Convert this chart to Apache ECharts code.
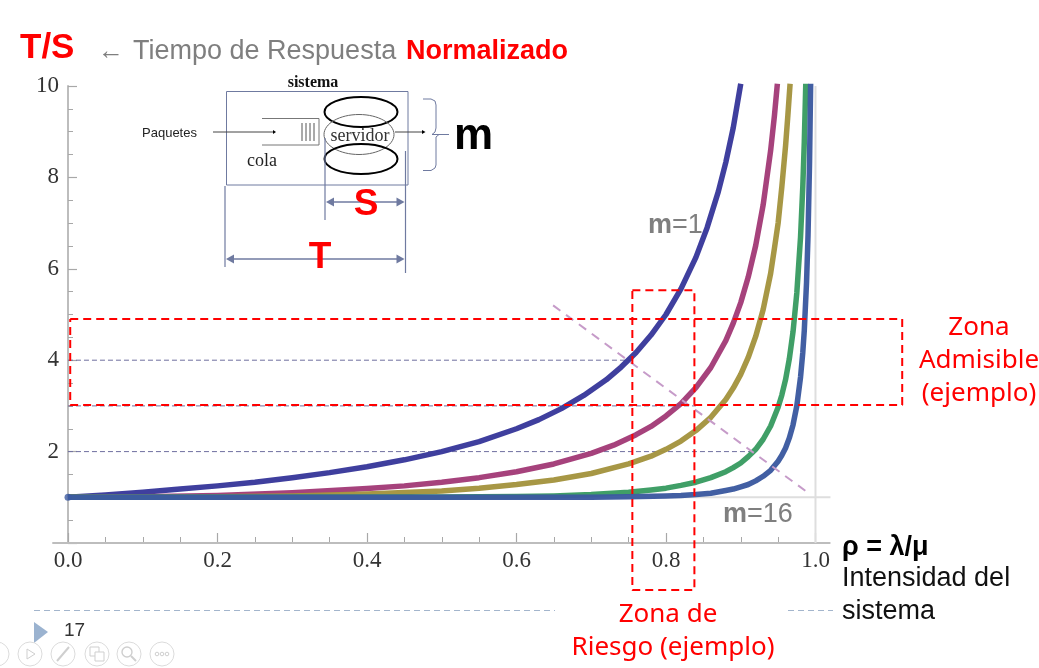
<!DOCTYPE html>
<html><head><meta charset="utf-8">
<script src="https://cdn.jsdelivr.net/npm/echarts@6/dist/echarts.min.js"></script>
<style>html,body{margin:0;padding:0;background:#fff}#c{width:1039px;height:668px}</style>
</head><body><div id="c"></div>
<script>
const xTickLabels = ['0.0','0.2','0.4','0.6','0.8','1.0'];
const yTickLabels = ['','2','4','6','8','10'];
const seriesNames = ['m=1','m=2','m=3','m=8','m=16'];
const m1Rho = [0,.05,.1,.15,.2,.25,.3,.35,.4,.45,.5,.55,.6,.63,.66,.69,.72,.74,.76,.78,.8,.82,.84,.855,.87,.88,.89,.9];
const m1T = [1,1.05,1.11,1.18,1.25,1.33,1.43,1.54,1.67,1.82,2,2.22,2.5,2.7,2.94,3.23,3.57,3.85,4.17,4.55,5,5.56,6.25,6.9,7.69,8.33,9.09,10.05];
const m2Rho = [0,.1,.2,.3,.4,.45,.5,.55,.6,.65,.7,.73,.76,.78,.8,.82,.84,.86,.88,.89,.9,.91,.92,.93,.94,.945,.949];
const m2T = [1,1.01,1.04,1.1,1.19,1.25,1.33,1.43,1.56,1.73,1.96,2.14,2.37,2.55,2.78,3.05,3.4,3.84,4.43,4.81,5.26,5.82,6.51,7.4,8.59,9.34,10.05];
const m3Rho = [0,.1,.2,.3,.4,.5,.55,.6,.65,.7,.75,.78,.8,.82,.84,.86,.88,.89,.9,.91,.92,.93,.94,.945,.95,.955,.96,.963,.966];
const m3T = [1,1,1.01,1.03,1.07,1.14,1.2,1.28,1.38,1.52,1.73,1.9,2.05,2.23,2.46,2.75,3.14,3.39,3.69,4.06,4.52,5.11,5.9,6.44,7,7.8,8.7,9.35,10.05];
const m8Rho = [0,.5,.6,.65,.7,.75,.78,.8,.82,.84,.86,.88,.89,.9,.91,.92,.93,.94,.95,.955,.96,.965,.97,.975,.98,.983,.985,.987];
const m8T = [1,1.004,1.017,1.03,1.06,1.11,1.16,1.2,1.26,1.33,1.43,1.56,1.65,1.75,1.89,2.05,2.27,2.56,2.97,3.24,3.58,4.03,4.63,5.47,6.7,7.8,8.77,10.05];
const m16Rho = [0,.6,.7,.75,.8,.82,.84,.86,.88,.89,.9,.91,.92,.93,.94,.95,.955,.96,.965,.97,.975,.98,.983,.985,.988,.99,.992,.9935];
const m16T = [1,1,1.003,1.01,1.03,1.04,1.06,1.09,1.15,1.18,1.23,1.28,1.36,1.46,1.59,1.79,1.92,2.08,2.3,2.59,3,3.63,4.17,4.65,5.7,6.73,8.3,10.05];
const curveColors = ['#39399b','#a33c78','#a4943f','#3a9c62','#3c5aa0'];
const zonaAdmisible = [[.003,4.9],[1.116,4.9],[1.116,3.02],[.003,3.02],[.003,4.9]];
const zonaRiesgo = [[.755,5.53],[.838,5.53],[.838,-1.03],[.755,-1.03],[.755,5.53]];
const guide4 = [[0,4],[.755,4]];
const guide3 = [[0,3],[.84,3]];
const guide2 = [[0,2],[.921,2]];
const diagonal = [[.649,5.2],[.99,1.1]];
const xAxisExtent = [[-.021,0],[1.02,0]];
const asymptoteH = [[0,1],[1.02,1]];
const asymptoteV = [[1,0],[1,10]];
const origin = [[0,1]];

const zip = (a,b)=>a.map((v,i)=>[v,b[i]]);
function ref(name,data,color,width,type,z){return {name,type:'line',xAxisIndex:1,yAxisIndex:1,data,symbol:'none',silent:true,clip:false,z:z||2,
  lineStyle:{color,width,type:type||'solid'},emphasis:{disabled:true}};}
function curve(name,x,y,color,z){return {name,type:'line',data:zip(x,y),symbol:'none',smooth:false,silent:true,clip:false,z,
  lineStyle:{color,width:5.5,opacity:.97,join:'round'},emphasis:{disabled:true}};}

const g=[];
const SANS='"Liberation Sans"', SERIF='"Liberation Serif"', NOTO='"Noto Sans"';
function T(text,x,y,font,fill,align){g.push({type:'text',silent:true,z:20,style:{text,x,y:y+1.5,font,fill,textAlign:align||'left',textVerticalAlign:'middle',verticalAlign:'middle'}});}
function L(x1,y1,x2,y2,stroke,w,dash){g.push({type:'line',silent:true,z:10,shape:{x1,y1,x2,y2},style:{stroke,lineWidth:w||1,lineDash:dash||null}});}
function P(points,fill){g.push({type:'polygon',silent:true,z:10,shape:{points},style:{fill}});}
function PL(points,stroke,w){g.push({type:'polyline',silent:true,z:10,shape:{points},style:{stroke,lineWidth:w||1,fill:'none'}});}
function E(cx,cy,rx,ry,stroke,w){g.push({type:'ellipse',silent:true,z:10,shape:{cx,cy,rx,ry},style:{stroke,lineWidth:w,fill:'none'}});}
function C(cx,cy,r){g.push({type:'circle',silent:true,z:10,shape:{cx,cy,r},style:{stroke:'#dcdcdc',lineWidth:1,fill:'none'}});}
const DG='#6f7aa0';
// title
T('T/S',20,47,'bold 35px '+SANS,'#ff0000');
T('←',98,50,'26px '+NOTO,'#7f7f7f');
T('Tiempo de Respuesta',133,50,'27px '+SANS,'#7f7f7f');
T('Normalizado',406,50,'bold 27px '+SANS,'#ff0000');
// diagram
T('sistema',313,81,'bold 16px '+SERIF,'#111','center');
g.push({type:'rect',silent:true,z:10,shape:{x:226.5,y:91.5,width:181.5,height:93.5},style:{stroke:DG,lineWidth:1,fill:'none'}});
E(361,112,36.5,15,'#000',2); E(359,134.5,35,20,'#666',1); E(361,159,36.5,15,'#000',2);
T('servidor',360,135,'18px '+SERIF,'#333','center');
T('Paquetes',169.5,132,'13px '+SANS,'#222','center');
L(213,132,273,132,'#444',1); P([[273,130],[276,132],[273,134]],'#000');
PL([[262,118.5],[319,118.5],[319,145],[262,145]],'#777',1);
[302,306,310,314].forEach(x=>L(x,123,x,141,'#555',1));
T('cola',262,160,'18px '+SERIF,'#222','center');
L(395,132,423,132,'#444',1); P([[422,130],[425.5,132],[422,134]],'#000');
PL([[423,99],[431,99],[435,101],[436,105],[436,128],[435,132],[432,134.5],[449,134.5],[439,134.5],[436,137],[436,165],[435,168],[431,170.5],[423,170.5]],DG,1);
T('m',454,135,'bold 44px '+SANS,'#000');
L(325,138,325,220,DG,1.2); L(405.5,151,405.5,206,DG,1.2);
L(333,202,397,202,DG,1.6); P([[326,202],[334,197.5],[334,206.5]],DG); P([[404.5,202],[396.5,197.5],[396.5,206.5]],DG);
T('S',366,203,'bold 37px '+SANS,'#ff0000','center');
L(225,186,225,267,DG,1.2); L(405.5,206,405.5,273,DG,1.2);
L(233,259,397,259,DG,1.6); P([[226,259],[234,254.5],[234,263.5]],DG); P([[404.5,259],[396.5,254.5],[396.5,263.5]],DG);
T('T',320,256,'bold 37px '+SANS,'#ff0000','center');
// curve labels
g.push({type:'text',silent:true,z:20,style:{x:648,y:226,verticalAlign:'middle',textVerticalAlign:'middle',text:'{b|m}{n|=1}',rich:{b:{font:'bold 27px '+SANS,fill:'#7f7f7f'},n:{font:'27px '+SANS,fill:'#7f7f7f'}}}});
g.push({type:'text',silent:true,z:20,style:{x:723,y:515,verticalAlign:'middle',textVerticalAlign:'middle',text:'{b|m}{n|=16}',rich:{b:{font:'bold 27px '+SANS,fill:'#7f7f7f'},n:{font:'27px '+SANS,fill:'#7f7f7f'}}}});
// zones
T('Zona',979,326,'26px '+NOTO,'#ff0000','center');
T('Admisible',979,359,'26px '+NOTO,'#ff0000','center');
T('(ejemplo)',979,392,'26px '+NOTO,'#ff0000','center');
T('Zona de',668,613,'26px '+NOTO,'#ff0000','center');
T('Riesgo (ejemplo)',673,646,'26px '+NOTO,'#ff0000','center');
// x title
T('ρ = λ/μ',842,546,'bold 27px '+SANS,'#000');
T('Intensidad del',842,577,'27px '+SANS,'#111');
T('sistema',842,610,'27px '+SANS,'#111');
// footer
L(34,610.5,555,610.5,'#a3b5cc',1.2,[6,4]);
L(788,610.5,833,610.5,'#a3b5cc',1.2,[6,4]);
P([[34,622],[48,632],[34,643]],'#9bb3d0');
T('17',64,629,'19px '+SANS,'#333');
[-3,30,63,97,129,162].forEach(x=>C(x,654,12));
PL([[27,649],[35,654],[27,659],[27,649]],'#cfcfcf',1);
L(57,661,69,647,'#cfcfcf',2);
g.push({type:'rect',silent:true,z:10,shape:{x:90,y:647,width:9,height:9},style:{stroke:'#cfcfcf',fill:'none'}});
g.push({type:'rect',silent:true,z:10,shape:{x:95,y:652,width:9,height:9},style:{stroke:'#cfcfcf',fill:'#fff'}});
g.push({type:'circle',silent:true,z:10,shape:{cx:127,cy:652,r:5},style:{stroke:'#cfcfcf',lineWidth:1.4,fill:'none'}});
L(131,656,136,661,'#cfcfcf',2);
[157,162,167].forEach(x=>g.push({type:'circle',silent:true,z:10,shape:{cx:x,cy:654,r:1.8},style:{stroke:'#cfcfcf',fill:'none'}}));

const axisColor='#bdbdbd', tickColor='#a8a8a8';
const option={
  animation:false,backgroundColor:'#fff',
  grid:[{left:68,top:86,width:747.5,height:457},
        {left:30.6,top:86,width:934.4,height:525.55}],
  xAxis:[{type:'value',gridIndex:0,min:0,max:1,interval:.2,splitLine:{show:false},
    axisLine:{show:false},
    axisTick:{inside:true,length:10,lineStyle:{color:tickColor,width:1.2}},
    minorTick:{show:true,splitNumber:4,length:6,lineStyle:{color:tickColor,width:1}},
    axisLabel:{margin:6,color:'#333',fontFamily:'Liberation Serif',fontSize:23,showMinLabel:true,showMaxLabel:true,
      formatter:(v)=>xTickLabels[Math.round(v/.2)]}},
    {type:'value',gridIndex:1,min:-.05,max:1.2,show:false}],
  yAxis:[{type:'value',gridIndex:0,min:0,max:10,interval:2,splitLine:{show:false},
    axisLine:{show:true,onZero:false,lineStyle:{color:axisColor,width:2}},
    axisTick:{inside:true,length:9,lineStyle:{color:tickColor,width:1.2}},
    minorTick:{show:true,splitNumber:4,length:5,lineStyle:{color:tickColor,width:1}},
    axisLabel:{margin:9,color:'#333',fontFamily:'Liberation Serif',fontSize:23,
      formatter:(v)=>yTickLabels[Math.round(v/2)]}},
    {type:'value',gridIndex:1,min:-1.5,max:10,show:false}],
  graphic:{elements:g},
  series:[
    ref('ejeX',xAxisExtent,axisColor,2,'solid',1),
    ref('asintotaH',asymptoteH,'#dedede',2,'solid',1),
    ref('asintotaV',asymptoteV,'#dedede',2,'solid',1),
    ref('guia4',guide4,'#6f6f9f',1,[5,3],2),
    ref('guia3',guide3,'#6f6f9f',1,[5,3],2),
    ref('guia2',guide2,'#6f6f9f',1,[5,3],2),
    curve(seriesNames[0],m1Rho,m1T,curveColors[0],3),
    curve(seriesNames[1],m2Rho,m2T,curveColors[1],4),
    curve(seriesNames[2],m3Rho,m3T,curveColors[2],5),
    curve(seriesNames[3],m8Rho,m8T,curveColors[3],6),
    curve(seriesNames[4],m16Rho,m16T,curveColors[4],7),
    {name:'origen',type:'scatter',data:origin,symbolSize:7,silent:true,z:8,itemStyle:{color:curveColors[4]},emphasis:{disabled:true}},
    ref('diagonal',diagonal,'#c69bc9',2,[9,7],8),
    ref('zonaAdmisible',zonaAdmisible,'#ff0000',2,[8,5],9),
    ref('zonaRiesgo',zonaRiesgo,'#ff0000',2,[8,5],9)
  ]
};
echarts.init(document.getElementById('c'),null,{renderer:'canvas'}).setOption(option);
</script></body></html>
